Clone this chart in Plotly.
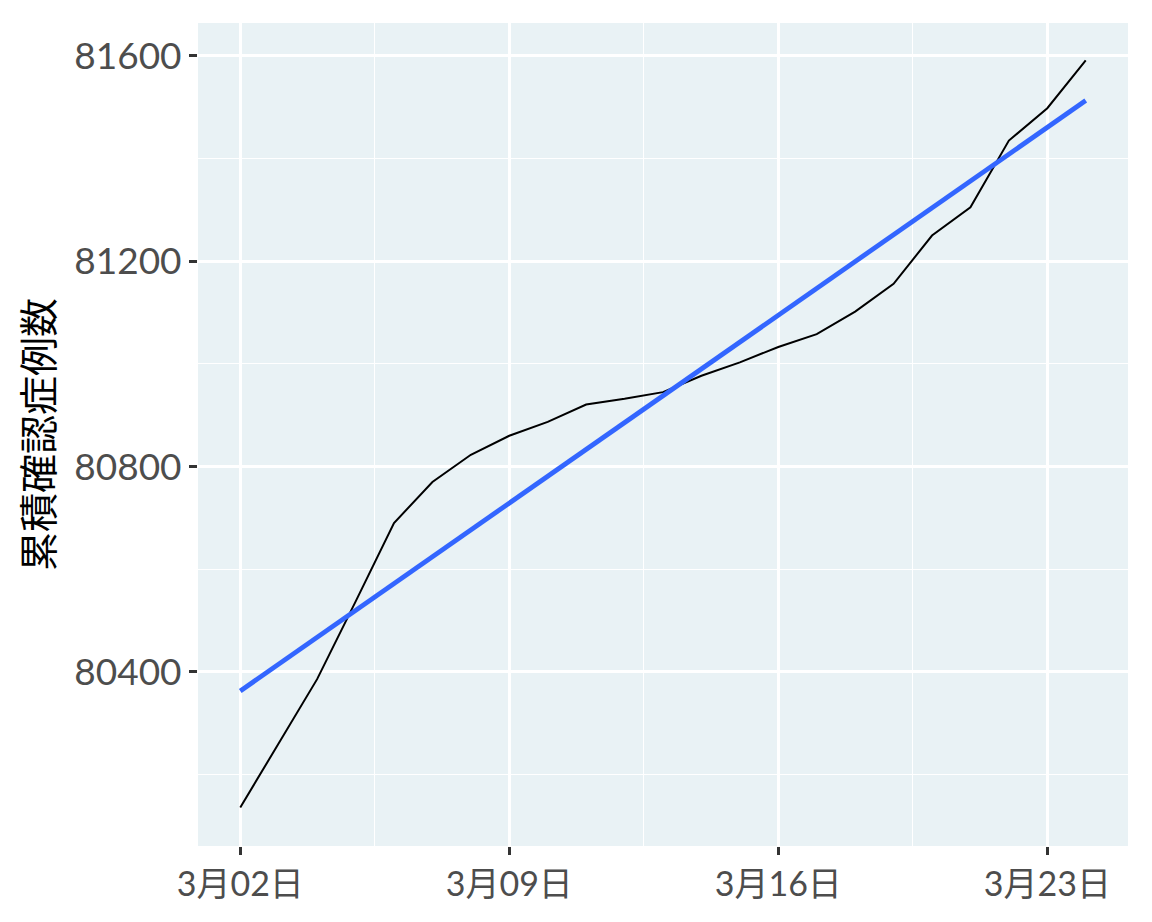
import pandas as pd
import plotly.graph_objects as go

# Cumulative confirmed cases, 2020-03-02 .. 2020-03-24
dates = pd.date_range("2020-03-02", "2020-03-24", freq="D")
cases = [80136, 80261, 80386, 80537, 80690, 80770, 80823, 80860, 80887, 80921,
         80932, 80945, 80977, 81003, 81033, 81058, 81102, 81156, 81250, 81305,
         81435, 81498, 81591]

# Linear fit line (geom_smooth lm), values read at first and last date
fit_dates = [dates[0], dates[-1]]
fit_values = [80363, 81513]

y_title = "累積確認症例数"
y_ticks = [80400, 80800, 81200, 81600]

PANEL_BG = "#E9F2F5"
FONT_FAMILY = "Lato, Noto Sans CJK JP"
WEEK = 7 * 24 * 3600 * 1000

fig = go.Figure()
fig.add_trace(go.Scatter(x=dates, y=cases, mode="lines",
                         line=dict(color="black", width=2), showlegend=False))
fig.add_trace(go.Scatter(x=fit_dates, y=fit_values, mode="lines",
                         line=dict(color="#3366FF", width=4.8), showlegend=False))

x_pad = pd.Timedelta(days=1.1)
fig.update_layout(
    width=1152, height=922,
    # page body adds 8px offset, margins compensate
    margin=dict(l=190, r=32, t=15, b=84),
    paper_bgcolor="white",
    plot_bgcolor=PANEL_BG,
    xaxis=dict(
        range=[dates[0] - x_pad, dates[-1] + x_pad],
        tickformat="%-m月%d日",
        dtick=WEEK,
        tick0="2020-03-02",
        showgrid=True, gridcolor="white", gridwidth=2.6,
        minor=dict(dtick=WEEK, tick0="2020-03-05 12:00",
                   showgrid=True, gridcolor="white", gridwidth=1.3),
        ticks="outside", ticklen=8, tickwidth=2.5, tickcolor="#333333",
        tickfont=dict(family=FONT_FAMILY, size=34, color="#4D4D4D"),
        zeroline=False, showline=False,
    ),
    yaxis=dict(
        range=[80061, 81664],
        tickvals=y_ticks,
        tickformat="d",
        showgrid=True, gridcolor="white", gridwidth=2.6,
        minor=dict(dtick=400, tick0=80200, showgrid=True,
                   gridcolor="white", gridwidth=1.3),
        ticks="outside", ticklen=8, tickwidth=2.5, tickcolor="#333333",
        tickfont=dict(family=FONT_FAMILY, size=37, color="#4D4D4D"),
        title=dict(text=y_title, standoff=12,
                   font=dict(family="Noto Sans CJK JP", size=39, color="black")),
        zeroline=False, showline=False,
    ),
)

fig.write_html("out.html")
